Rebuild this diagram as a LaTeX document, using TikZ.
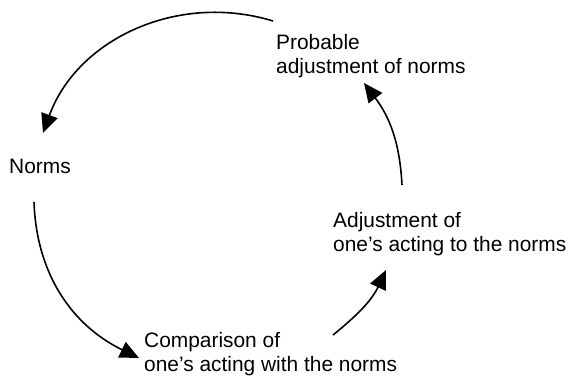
\documentclass[tikz,border=0pt]{standalone}
\usepackage{fontspec}
\setmainfont{Liberation Sans}
\usetikzlibrary{arrows.meta}

\begin{document}
\begin{tikzpicture}[x=1pt,y=1pt]
            \tikzstyle{every node}+=[inner sep=0pt]
            \tikzstyle{stage}=[anchor=base west, align=left, font=\fontsize{20.9}{24}\selectfont]
            \tikzstyle{turn}=[black, line width=1.6pt, -{Triangle[length=19pt,width=17pt]}]
            \useasboundingbox (0,0) rectangle (571,379);
            % base anchor sits on the last line
            \node [stage] (probable) at (276,305) {Probable\\adjustment of norms};
            \node [stage] (norms) at (9,205) {Norms};
            \node [stage] (adjust) at (333,127) {Adjustment of\\one’s acting to the norms};
            \node [stage] (compare) at (144,7) {Comparison of\\one’s acting with the norms};
            \coordinate (probable-out) at (273,358);
            \coordinate (norms-in) at (43,246);
            \coordinate (norms-out) at (34,177);
            \coordinate (compare-in) at (139,21);
            \coordinate (compare-out) at (333,44);
            \coordinate (adjust-in) at (386,109);
            \coordinate (adjust-out) at (402,194);
            \coordinate (probable-in) at (364,296);
            \draw [turn] (probable-out) to [out=163, in=70] (norms-in);
            \draw [turn] (norms-out) to [out=272, in=154] (compare-in);
            \draw [turn] (compare-out) to [out=39, in=245] (adjust-in);
            \draw [turn] (adjust-out) to [out=93, in=307] (probable-in);
\end{tikzpicture}
\end{document}
